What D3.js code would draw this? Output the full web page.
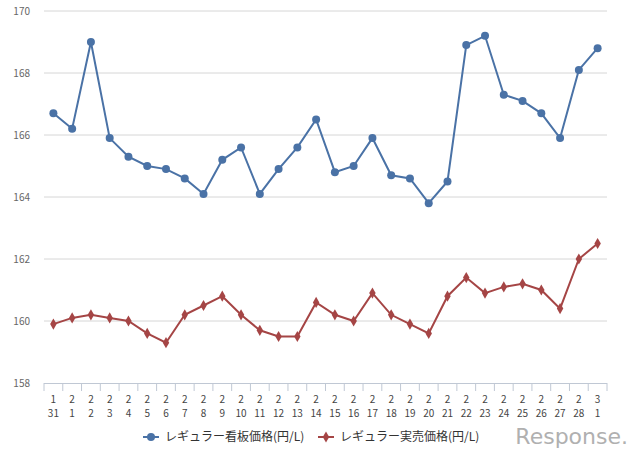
<!DOCTYPE html>
<html><head><meta charset="utf-8">
<script src="https://cdn.jsdelivr.net/npm/d3@7"></script>
<style>body{margin:0;background:#fff}svg{font-family:"Noto Sans CJK JP","DejaVu Sans",sans-serif}</style>
</head><body><svg id="c" width="640" height="455"></svg>
<script>
const months=["1","2","2","2","2","2","2","2","2","2","2","2","2","2","2","2","2","2","2","2","2","2","2","2","2","2","2","2","2","3"];
const days=["31","1","2","3","4","5","6","7","8","9","10","11","12","13","14","15","16","17","18","19","20","21","22","23","24","25","26","27","28","1"];
const signPrice=[166.7,166.2,169.0,165.9,165.3,165.0,164.9,164.6,164.1,165.2,165.6,164.1,164.9,165.6,166.5,164.8,165.0,165.9,164.7,164.6,163.8,164.5,168.9,169.2,167.3,167.1,166.7,165.9,168.1,168.8];
const actualPrice=[159.9,160.1,160.2,160.1,160.0,159.6,159.3,160.2,160.5,160.8,160.2,159.7,159.5,159.5,160.6,160.2,160.0,160.9,160.2,159.9,159.6,160.8,161.4,160.9,161.1,161.2,161.0,160.4,162.0,162.5];
const yTicks=[158,160,162,164,166,168,170];
const seriesNames=["レギュラー看板価格(円/L)","レギュラー実売価格(円/L)"];
const colors=["#4a72a6","#a54545"];

const svg=d3.select("#c");
const L=44,R=607,T=11,B=383;
const idx=d3.range(months.length);
const x=d3.scaleBand().domain(idx).range([L,R]);
const y=d3.scaleLinear().domain([158,170]).range([B,T]);

svg.append("g").selectAll("line").data(yTicks.slice(1)).join("line")
 .attr("x1",L).attr("x2",R).attr("y1",d=>y(d)).attr("y2",d=>y(d))
 .attr("stroke","#d6d6d6").attr("stroke-width",1);
svg.append("g").selectAll("text").data(yTicks).join("text")
 .attr("x",30).attr("y",d=>y(d)+4).attr("text-anchor","end")
 .attr("font-size",10).attr("fill","#666").text(d=>d);

svg.append("line").attr("x1",L).attr("x2",R).attr("y1",B+0.5).attr("y2",B+0.5).attr("stroke","#c0c8d4");
svg.append("g").selectAll("line").data(d3.range(months.length+1)).join("line")
 .attr("x1",d=>L+d*x.step()).attr("x2",d=>L+d*x.step()).attr("y1",B).attr("y2",B+8)
 .attr("stroke","#c0c8d4");
const xl=svg.append("g");
xl.selectAll(".m").data(idx).join("text").attr("x",d=>x(d)+x.bandwidth()/2).attr("y",B+20)
 .attr("text-anchor","middle").attr("font-size",10).attr("fill","#444").text(d=>months[d]);
xl.selectAll(".d").data(idx).join("text").attr("x",d=>x(d)+x.bandwidth()/2).attr("y",B+34)
 .attr("text-anchor","middle").attr("font-size",10).attr("fill","#444").text(d=>days[d]);

const cx=i=>x(i)+x.bandwidth()/2;
const line=d3.line().x((d,i)=>cx(i)).y(d=>y(d));
svg.append("path").datum(signPrice).attr("d",line).attr("fill","none").attr("stroke",colors[0]).attr("stroke-width",2);
svg.append("g").selectAll("circle").data(signPrice).join("circle").attr("cx",(d,i)=>cx(i)).attr("cy",d=>y(d)).attr("r",4).attr("fill",colors[0]);
svg.append("path").datum(actualPrice).attr("d",line).attr("fill","none").attr("stroke",colors[1]).attr("stroke-width",2);
const dia=d3.symbol().type(d3.symbolDiamond).size(36);
svg.append("g").selectAll("path").data(actualPrice).join("path").attr("d",dia)
 .attr("transform",(d,i)=>`translate(${cx(i)},${y(d)})`).attr("fill",colors[1]);

const lg=[{x:143,c:colors[0],t:seriesNames[0],s:"circle"},{x:318,c:colors[1],t:seriesNames[1],s:"diamond"}];
lg.forEach(g=>{
 const G=svg.append("g").attr("transform",`translate(${g.x},437)`);
 G.append("line").attr("x1",0).attr("x2",16).attr("stroke",g.c).attr("stroke-width",2);
 if(g.s==="circle")G.append("circle").attr("cx",8).attr("r",4).attr("fill",g.c);
 else G.append("path").attr("d",dia).attr("transform","translate(8,0)").attr("fill",g.c);
 G.append("text").attr("x",22).attr("y",4).attr("font-size",12).attr("fill","#333").text(g.t);
});
svg.append("text").attr("x",628).attr("y",444).attr("text-anchor","end").attr("font-size",22)
 .attr("fill","#b0b0b0").attr("font-family","DejaVu Sans").text("Response.");
</script></body></html>
